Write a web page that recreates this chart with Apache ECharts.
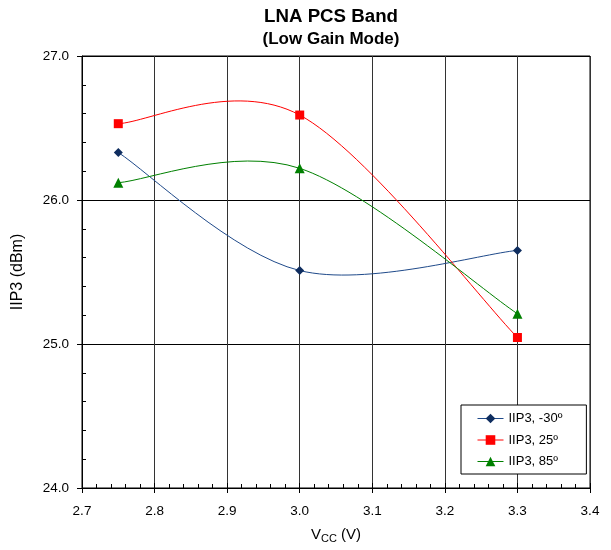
<!DOCTYPE html>
<html><head><meta charset="utf-8">
<script src="https://cdn.jsdelivr.net/npm/echarts@6/dist/echarts.min.js"></script>
<style>html,body{margin:0;padding:0;background:#fff}#c{width:611px;height:550px}</style>
</head><body><div id="c"></div>
<script>
const vcc = [2.75, 3.0, 3.3];
const iip3_m30 = [26.33, 25.51, 25.65];
const iip3_25 = [26.53, 26.59, 25.045];
const iip3_85 = [26.12, 26.22, 25.21];
const seriesNames = ['IIP3, -30º', 'IIP3, 25º', 'IIP3, 85º'];
const lineColors = ['#1F4A8A', '#FF0000', '#008000'];
const markColors = ['#0F2D5F', '#FF0000', '#008000'];

const font = 'Liberation Sans, Arial, sans-serif';
const chart = echarts.init(document.getElementById('c'));
function pts(v){ return vcc.map((x,i)=>[x,v[i]]); }

// Excel-style smoothed line (Catmull-Rom bezier) drawn through the data via the axis scales
function smoothRender(values, color){
  return function(params, api){
    if (params.dataIndex !== 0) return null;
    const p = vcc.map((x,i)=>api.coord([x, values[i]]));
    const n = p.length;
    let d = 'M' + p[0][0] + ' ' + p[0][1];
    for (let i = 0; i < n - 1; i++){
      const p0 = p[Math.max(i-1,0)], p1 = p[i], p2 = p[i+1], p3 = p[Math.min(i+2,n-1)];
      const c1 = [p1[0] + (p2[0]-p0[0])/6, p1[1] + (p2[1]-p0[1])/6];
      const c2 = [p2[0] - (p3[0]-p1[0])/6, p2[1] - (p3[1]-p1[1])/6];
      d += ' C' + c1[0] + ' ' + c1[1] + ' ' + c2[0] + ' ' + c2[1] + ' ' + p2[0] + ' ' + p2[1];
    }
    return {type:'path', shape:{pathData:d}, style:{fill:'none', stroke:color, lineWidth:1}};
  };
}

const xBase = {type:'value', min:2.7, max:3.4, interval:0.1, gridIndex:0};
const yBase = {type:'value', min:24, max:27, interval:1, gridIndex:0};
const allVals = [iip3_m30, iip3_25, iip3_85];
const symbols = ['diamond', 'rect', 'triangle'];
const symSizes = [9, 9, 10];

const series = [];
allVals.forEach((v, k) => {
  series.push({type:'custom', name:seriesNames[k]+'_curve', coordinateSystem:'cartesian2d', data:pts(v),
    renderItem:smoothRender(v, lineColors[k]), z:2, silent:true});
});
allVals.forEach((v, k) => {
  series.push({name:seriesNames[k], type:'line', data:pts(v), symbol:symbols[k], symbolSize:symSizes[k],
    itemStyle:{color:markColors[k]}, lineStyle:{color:lineColors[k], width:1, opacity:0}, z:3});
});

chart.setOption({
  animation:false,
  backgroundColor:'#fff',
  title:[
    {text:'LNA PCS Band', left:326, textAlign:'center', top:2, textStyle:{fontFamily:font, fontWeight:'bold', fontSize:18.7, color:'#000'}},
    {text:'(Low Gain Mode)', left:326, textAlign:'center', top:26, textStyle:{fontFamily:font, fontWeight:'bold', fontSize:17, color:'#000'}}
  ],
  grid:{left:82, top:56, right:21, bottom:62, show:true, borderColor:'#000', borderWidth:1},
  xAxis:[
    Object.assign({}, xBase, {
      name:'{a|V}{s|CC}{a| (V)}', nameLocation:'middle', nameGap:38,
      nameTextStyle:{rich:{a:{fontFamily:font, fontSize:15, color:'#000'}, s:{fontFamily:font, fontSize:11, color:'#000', padding:[7,0,0,0]}}},
      axisLine:{lineStyle:{color:'#000'}},
      axisTick:{show:true, inside:false, length:5, lineStyle:{color:'#000'}},
      axisLabel:{fontFamily:font, fontSize:13.5, color:'#000', margin:16, formatter:v=>v.toFixed(1)},
      splitLine:{show:true, lineStyle:{color:'#333', width:1}}
    }),
    Object.assign({}, xBase, {
      position:'bottom',
      axisLine:{show:false}, axisLabel:{show:false}, splitLine:{show:false},
      axisTick:{show:true, inside:true, length:5, lineStyle:{color:'#000'}},
      minorTick:{show:true, splitNumber:5, length:4, lineStyle:{color:'#000'}}
    })
  ],
  yAxis:[
    Object.assign({}, yBase, {
      name:'IIP3 (dBm)', nameLocation:'middle', nameGap:56,
      nameTextStyle:{fontFamily:font, fontSize:16, color:'#000'},
      axisLine:{show:true, lineStyle:{color:'#000'}},
      axisTick:{show:true, inside:false, length:5, lineStyle:{color:'#000'}},
      axisLabel:{fontFamily:font, fontSize:13.5, color:'#000', margin:13, formatter:v=>v.toFixed(1)},
      splitLine:{show:true, lineStyle:{color:'#000', width:1}}
    }),
    Object.assign({}, yBase, {
      position:'left',
      axisLine:{show:false}, axisLabel:{show:false}, splitLine:{show:false},
      axisTick:{show:true, inside:true, length:5, lineStyle:{color:'#000'}},
      minorTick:{show:true, splitNumber:5, length:4, lineStyle:{color:'#000'}}
    })
  ],
  legend:{
    left:461, top:405, orient:'vertical', itemGap:8.5, itemWidth:26, itemHeight:12,
    padding:[7,24,6,16], borderColor:'#000', borderWidth:1, backgroundColor:'#fff',
    textStyle:{fontFamily:font, fontSize:13, color:'#000'},
    data:seriesNames.map((n,k)=>({name:n, lineStyle:{color:lineColors[k], width:1, opacity:1}}))
  },
  series:series
});
</script></body></html>
